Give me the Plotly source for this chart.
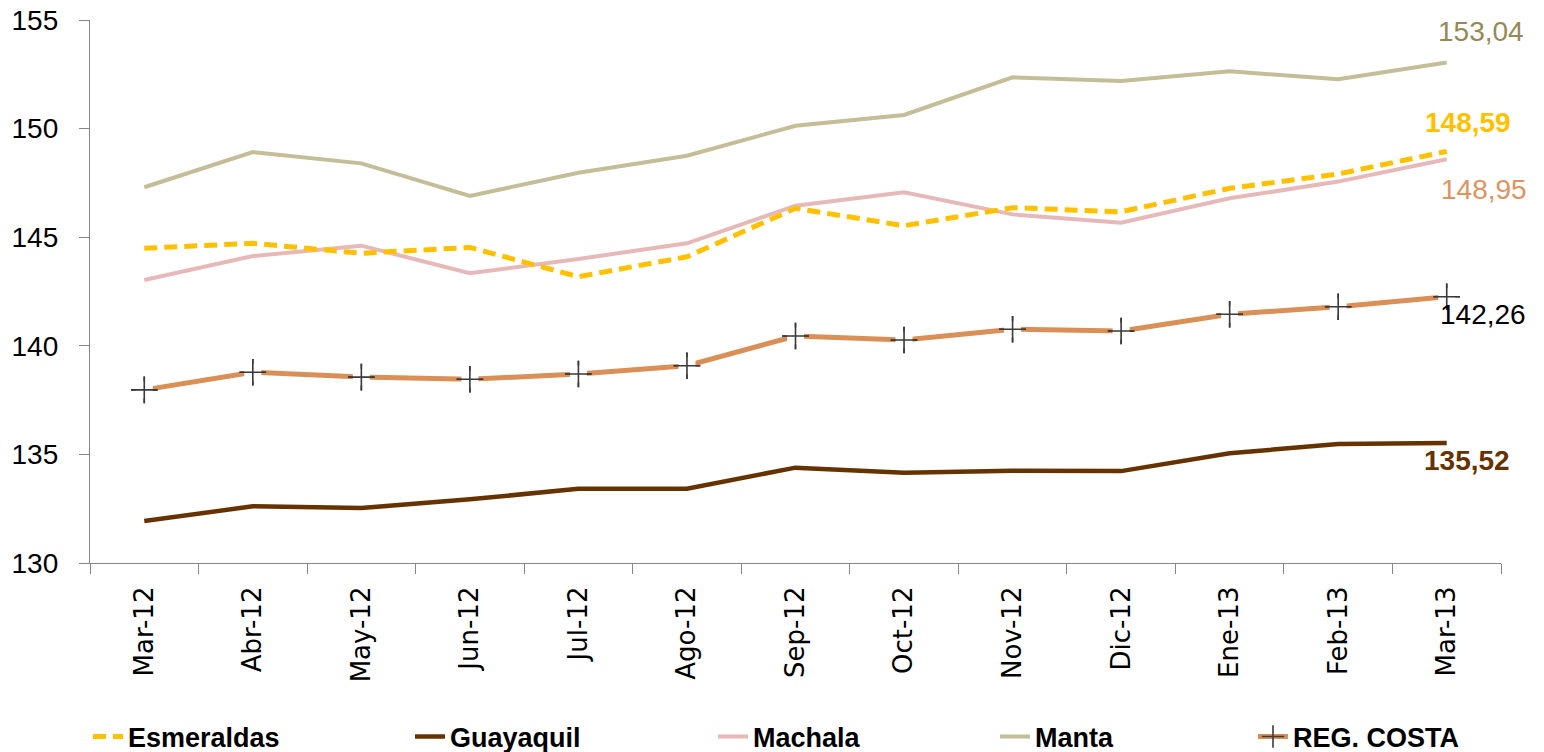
import plotly.graph_objects as go

months = ["Mar-12", "Abr-12", "May-12", "Jun-12", "Jul-12", "Ago-12", "Sep-12",
          "Oct-12", "Nov-12", "Dic-12", "Ene-13", "Feb-13", "Mar-13"]

esmeraldas = [144.49, 144.72, 144.26, 144.53, 143.18, 144.10, 146.33,
              145.53, 146.36, 146.17, 147.25, 147.91, 148.95]
guayaquil = [131.93, 132.61, 132.53, 132.93, 133.42, 133.42, 134.39,
             134.16, 134.25, 134.23, 135.05, 135.48, 135.52]
machala = [143.03, 144.13, 144.61, 143.34, 144.00, 144.72, 146.45,
           147.07, 146.05, 145.67, 146.79, 147.56, 148.59]
manta = [147.30, 148.92, 148.40, 146.90, 147.97, 148.75, 150.13,
         150.63, 152.36, 152.19, 152.64, 152.27, 153.04]
reg_costa = [137.97, 138.78, 138.56, 138.46, 138.70, 139.08, 140.45,
             140.27, 140.76, 140.68, 141.45, 141.80, 142.26]

# end-of-line labels as printed in the chart
end_labels = {"Manta": "153,04", "Esmeraldas": "148,59", "Machala": "148,95",
              "REG. COSTA": "142,26", "Guayaquil": "135,52"}

C_ESM = "#FFC000"
C_GUA = "#663300"
C_MAC = "#E6B9B8"
C_MAN = "#C4BD97"
C_REG = "#DA8F56"

FONT = "Liberation Sans"

fig = go.Figure()

fig.add_trace(go.Scatter(x=months, y=manta, name="Manta", mode="lines",
                         line=dict(color=C_MAN, width=4), legend="legend4"))
fig.add_trace(go.Scatter(x=months, y=machala, name="Machala", mode="lines",
                         line=dict(color=C_MAC, width=4), legend="legend3"))
fig.add_trace(go.Scatter(x=months, y=esmeraldas, name="Esmeraldas", mode="lines",
                         line=dict(color=C_ESM, width=5, dash="13px,7px"), legend="legend"))
fig.add_trace(go.Scatter(x=months, y=guayaquil, name="Guayaquil", mode="lines",
                         line=dict(color=C_GUA, width=4.5), legend="legend2"))
fig.add_trace(go.Scatter(x=months, y=reg_costa, name="REG. COSTA", mode="lines+markers",
                         line=dict(color=C_REG, width=5),
                         marker=dict(symbol="cross-thin", size=19, color="#3A3A3A",
                                     line=dict(color="#3A3A3A", width=1.6)),
                         legend="legend5"))
fig.add_trace(go.Scatter(x=months, y=reg_costa, mode="markers", showlegend=False,
                         hoverinfo="skip",
                         marker=dict(symbol="square", size=17, color="white",
                                     line=dict(width=0))))
fig.add_trace(go.Scatter(x=months, y=reg_costa, mode="markers", showlegend=False,
                         hoverinfo="skip",
                         marker=dict(symbol="cross-thin", size=19, color="#3A3A3A",
                                     line=dict(color="#3A3A3A", width=1.6))))

last = months[-1]
ann_specs = [
    ("Manta", manta[-1], "#948A54", False, 34, 31),
    ("Esmeraldas", esmeraldas[-1], C_ESM, True, 21, 29),
    ("Machala", machala[-1], "#DE9460", False, 37, -30),
    ("REG. COSTA", reg_costa[-1], "#000000", False, 36, -18),
    ("Guayaquil", guayaquil[-1], C_GUA, True, 20, -17),
]
for key, yv, col, bold, xs, ys in ann_specs:
    txt = end_labels[key]
    fig.add_annotation(x=last, y=yv, text=f"<b>{txt}</b>" if bold else txt,
                       showarrow=False, xshift=xs, yshift=ys,
                       font=dict(family=FONT, size=28, color=col))

plot_left, plot_w, plot_h = 90, 1411, 543
text_starts = {"legend": 130, "legend2": 452, "legend3": 755, "legend4": 1037, "legend5": 1295}
leg_common = dict(orientation="h", yanchor="middle", y=-(737 - 563) / plot_h,
                  xanchor="left",
                  font=dict(family=FONT, size=27, color="#000000", weight="bold"),
                  bgcolor="rgba(0,0,0,0)", borderwidth=0, itemclick=False)
legends = {}
for k, t in text_starts.items():
    legends[k] = dict(leg_common, x=(t - 42 - plot_left) / plot_w)

fig.update_layout(
    width=1544, height=752,
    margin=dict(l=90, r=43, t=20, b=189, autoexpand=False),
    paper_bgcolor="white", plot_bgcolor="white",
    font=dict(family=FONT, color="#000000"),
    xaxis=dict(type="category", range=[-0.5, 12.5], tickson="boundaries",
               ticks="outside", ticklen=10, tickcolor="#868686", tickwidth=1,
               showline=True, linecolor="#868686", linewidth=1.3,
               showgrid=False, zeroline=False, tickangle=-90,
               ticklabelstandoff=12, ticklabeloverflow="allow",
               tickfont=dict(family="DejaVu Sans", size=26, color="#000000")),
    yaxis=dict(range=[130, 155], dtick=5, tick0=130,
               ticks="outside", ticklen=10, tickcolor="#868686", tickwidth=1,
               showline=True, linecolor="#868686", linewidth=1.3,
               showgrid=False, zeroline=False, ticklabelstandoff=15,
               ticklabeloverflow="allow",
               tickfont=dict(family=FONT, size=28, color="#000000")),
    **legends,
)

fig.write_html("out.html", config={"displayModeBar": False},
               post_script="document.body.style.margin='0';")
